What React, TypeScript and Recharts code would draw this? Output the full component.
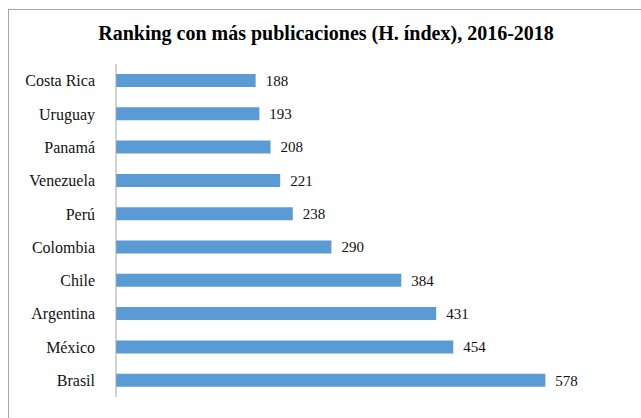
import { Bar, BarChart, LabelList, XAxis, YAxis } from 'recharts';

const countries = [
  'Costa Rica',
  'Uruguay',
  'Panamá',
  'Venezuela',
  'Perú',
  'Colombia',
  'Chile',
  'Argentina',
  'México',
  'Brasil',
];
const hIndex = [188, 193, 208, 221, 238, 290, 384, 431, 454, 578];

const data = countries.map((name, i) => ({ name, value: hIndex[i] }));

const serif = "'Liberation Serif', 'Times New Roman', serif";

export default function App() {
  return (
    <div
      style={{
        position: 'fixed',
        left: 0,
        top: 0,
        width: 641,
        height: 418,
        overflow: 'hidden',
        background: '#fff',
        fontFamily: serif,
      }}
    >
      <div
        style={{
          position: 'absolute',
          left: 8,
          top: 9,
          width: 700,
          height: 500,
          border: '1.5px solid #a6a6a6',
        }}
      />
      <div
        style={{
          position: 'absolute',
          left: 0,
          top: 21,
          width: 652,
          textAlign: 'center',
          fontSize: 20,
          fontWeight: 'bold',
          color: '#000',
          lineHeight: '24px',
        }}
      >
        Ranking con más publicaciones (H. índex), 2016-2018
      </div>
      <div style={{ position: 'absolute', left: 0, top: 0 }}>
        <BarChart
          width={641}
          height={418}
          data={data}
          layout="vertical"
          margin={{ top: 64, right: 5, bottom: 21, left: 0 }}
          barSize={13}
        >
          <XAxis type="number" domain={[0, 700]} hide />
          <YAxis
            type="category"
            dataKey="name"
            width={116}
            axisLine={{ stroke: '#a6a6a6', strokeWidth: 1 }}
            tickLine={false}
            tickMargin={15}
            tick={{ fill: '#111', fontSize: 16, fontFamily: serif }}
          />
          <Bar dataKey="value" fill="#5b9bd5" isAnimationActive={false}>
            <LabelList
              dataKey="value"
              position="right"
              offset={10}
              fill="#111"
              fontSize={15}
              fontFamily={serif}
            />
          </Bar>
        </BarChart>
      </div>
    </div>
  );
}
